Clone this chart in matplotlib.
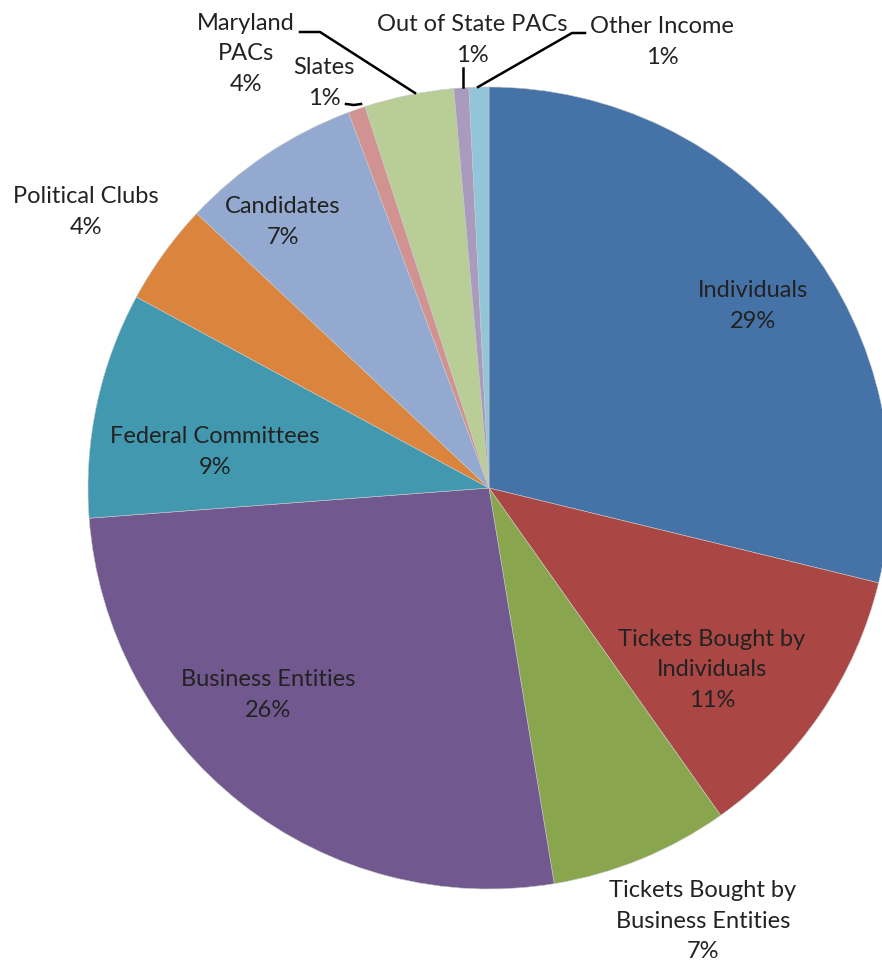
"""
Income sources pie chart
"""

import numpy as np
import matplotlib.pyplot as plt

plt.rcParams['font.family'] = ['Lato', 'DejaVu Sans']

# slices clockwise from 12 o'clock
labels = ['Individuals', 'Tickets Bought by\nIndividuals', 'Tickets Bought by\nBusiness Entities',
          'Business Entities', 'Federal Committees', 'Political Clubs', 'Candidates',
          'Slates', 'Maryland\nPACs', 'Out of State PACs', 'Other Income']
shares = [28.8, 11.4, 7.2, 26.4, 9.1, 4.1, 7.3, 0.7, 3.6, 0.6, 0.8]
colors = ['#4572A7', '#AA4643', '#89A54E', '#71588F', '#4198AF', '#DB843D',
          '#93A9CF', '#D19392', '#B9CD96', '#A99BBD', '#92C5D8']

W, H = 882, 965
fig = plt.figure(figsize=(W / 100, H / 100), dpi=100)
ax = fig.add_axes([0, 0, 1, 1])

cx, cy, r = 489, H - 488, 401
ax.pie(shares, colors=colors, startangle=90, counterclock=False,
       center=(cx, cy), radius=r, frame=True,
       wedgeprops=dict(linewidth=0.4, edgecolor='#c8c8c8'))
ax.set_xlim(0, W)
ax.set_ylim(0, H)
ax.set_aspect('equal')
ax.axis('off')

# label anchor points (pixel positions, top-left origin)
label_pos = [(753, 306), (712, 670), (703, 921), (268, 695), (215, 452),
             (86, 212), (283, 222), (324, 83), (246, 54), (472, 40), (662, 42)]
for lab, val, (px, py) in zip(labels, shares, label_pos):
    ax.text(px, H - py, f'{lab}\n{val:.0f}%', ha='center', va='center',
            fontsize=17, color='#222222', linespacing=1.55)

# leader lines for the small slices
leaders = [
    [(346, 104), (354, 105), (361, 104)],   # Slates
    [(300, 32), (320, 32), (415, 93)],      # Maryland PACs
    [(463, 68), (463, 87)],                 # Out of State PACs
    [(585, 33), (572, 33), (478, 87)],      # Other Income
]
for pts in leaders:
    xs = [p[0] for p in pts]
    ys = [H - p[1] for p in pts]
    ax.plot(xs, ys, color='black', lw=1.8)

fig.savefig('out.png', dpi=100)
